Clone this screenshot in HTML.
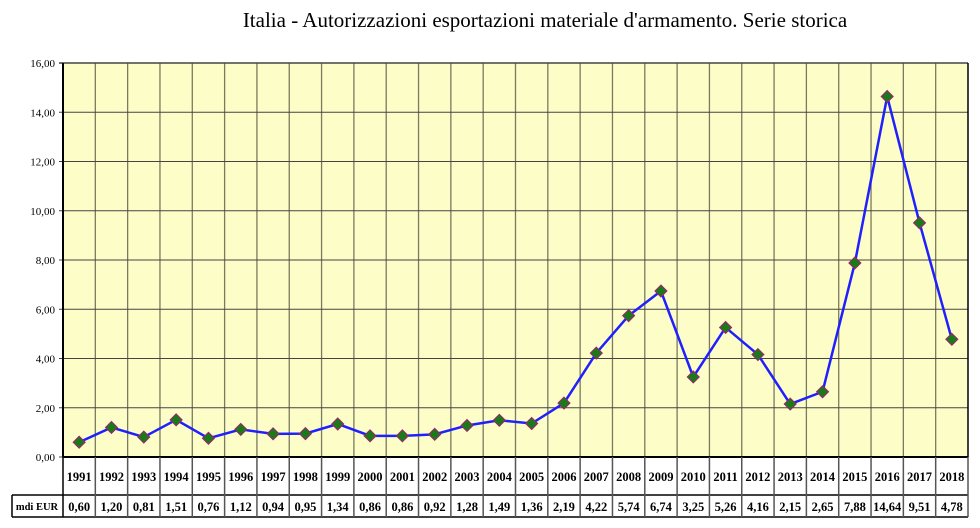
<!DOCTYPE html>
<html><head><meta charset="utf-8"><style>body{margin:0;background:#fff}</style></head><body>
<div id="c"></div>
<script>
var L=63,R=968,T=63,B=457,n=28,cw=(R-L)/n;
var vals=[0.60,1.20,0.81,1.51,0.76,1.12,0.94,0.95,1.34,0.86,0.86,0.92,1.28,1.49,1.36,2.19,4.22,5.74,6.74,3.25,5.26,4.16,2.15,2.65,7.88,14.64,9.51,4.78];
function y(v){return B-v*(B-T)/16;}
function f(v){return v.toFixed(2).replace('.',',');}
var s='<svg width="980" height="523" xmlns="http://www.w3.org/2000/svg" font-family="Liberation Serif, serif">';
s+='<text x="545" y="27" font-size="21" text-anchor="middle">Italia - Autorizzazioni esportazioni materiale d\'armamento. Serie storica</text>';
s+='<rect x="63" y="63" width="905" height="394" fill="#fdfdc8"/>';
for(var i=1;i<n;i++){var x=L+i*cw;s+='<line x1="'+x+'" y1="'+T+'" x2="'+x+'" y2="'+B+'" stroke="#7a7a60" stroke-width="1.3"/>';}
for(var k=0;k<=8;k++){var yy=y(k*2);s+='<line x1="'+(L-4)+'" y1="'+yy+'" x2="'+R+'" y2="'+yy+'" stroke="#444" stroke-width="'+(k==8?1.5:1)+'"/>';s+='<text x="'+(L-8)+'" y="'+(yy+4)+'" font-size="11" text-anchor="end">'+f(k*2)+'</text>';}
s+='<line x1="'+R+'" y1="'+T+'" x2="'+R+'" y2="'+B+'" stroke="#000" stroke-width="1.5"/>';
s+='<line x1="'+L+'" y1="'+T+'" x2="'+L+'" y2="'+B+'" stroke="#000" stroke-width="2"/>';
s+='<line x1="'+L+'" y1="'+B+'" x2="'+R+'" y2="'+B+'" stroke="#000" stroke-width="2"/>';
s+='<line x1="12" y1="495" x2="'+R+'" y2="495" stroke="#000" stroke-width="1.5"/>';
s+='<line x1="12" y1="517" x2="'+R+'" y2="517" stroke="#000" stroke-width="1.5"/>';
s+='<line x1="12" y1="495" x2="12" y2="517" stroke="#000" stroke-width="1.5"/>';
s+='<line x1="'+L+'" y1="'+B+'" x2="'+L+'" y2="517" stroke="#000" stroke-width="1.5"/>';
s+='<text x="37" y="510" font-size="10.5" font-weight="bold" text-anchor="middle">mdi EUR</text>';
for(var i=0;i<n;i++){var x=L+(i+1)*cw;s+='<line x1="'+x+'" y1="'+B+'" x2="'+x+'" y2="517" stroke="#555" stroke-width="1.5"/>';
var cx=L+(i+.5)*cw;s+='<text x="'+cx+'" y="481" font-size="12.5" font-weight="bold" text-anchor="middle">'+(1991+i)+'</text>';
s+='<text x="'+cx+'" y="511" font-size="12.5" font-weight="bold" text-anchor="middle">'+f(vals[i])+'</text>';}
var p=vals.map(function(v,i){return (L+(i+.5)*cw)+','+y(v);}).join(' ');
s+='<polyline points="'+p+'" fill="none" stroke="#2020ff" stroke-width="2.5"/>';
vals.forEach(function(v,i){var cx=L+(i+.5)*cw,cy=y(v);s+='<polygon points="'+cx+','+(cy-6)+' '+(cx+6)+','+cy+' '+cx+','+(cy+6)+' '+(cx-6)+','+cy+'" fill="#1a7a1a" stroke="#a02070" stroke-width="1"/>';});
s+='</svg>';
document.getElementById('c').innerHTML=s;
</script>
</body></html>
